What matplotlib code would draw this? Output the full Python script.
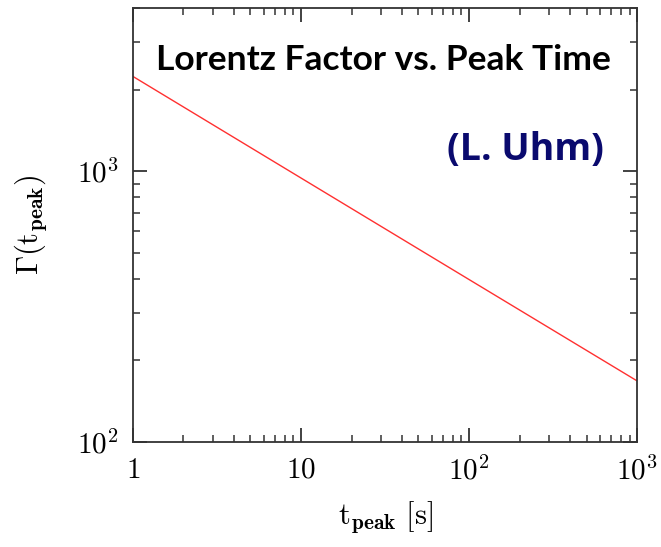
import matplotlib
matplotlib.use('Agg')
import matplotlib.pyplot as plt
from matplotlib.ticker import LogLocator, NullFormatter

# data (power law, straight on log-log)
t_peak = [1, 10, 100, 1000]
gamma = [2240, 944, 398, 168]

xticks = [1, 10, 100, 1000]
xticklabels = ['$1$', '$10$', '$10^2$', '$10^3$']
yticks = [100, 1000]
yticklabels = ['$10^2$', '$10^3$']

plt.rcParams['mathtext.fontset'] = 'cm'

fig = plt.figure(figsize=(6.61, 5.47), dpi=100)
ax = fig.add_axes([0.201, 0.192, 0.763, 0.793])

ax.plot(t_peak, gamma, color='#ff3030', lw=1.0)

ax.set_xscale('log')
ax.set_yscale('log')
ax.set_xlim(1, 1000)
ax.set_ylim(100, 4000)

ax.set_xticks(xticks, xticklabels)
ax.set_yticks(yticks, yticklabels)
ax.xaxis.set_minor_locator(LogLocator(base=10, subs=range(2, 10)))
ax.yaxis.set_minor_locator(LogLocator(base=10, subs=range(2, 10)))
ax.xaxis.set_minor_formatter(NullFormatter())
ax.yaxis.set_minor_formatter(NullFormatter())

ax.tick_params(which='both', direction='in', top=True, right=True,
               color='#333333', labelsize=21, pad=10)
ax.tick_params(which='major', length=10, width=1.3)
ax.tick_params(which='minor', length=5, width=1.1)
for s in ax.spines.values():
    s.set_linewidth(1.3)
    s.set_color('#333333')

ax.set_xlabel(r'$\mathrm{t}_{\mathbf{peak}}\ [\mathrm{s}]$', fontsize=22, labelpad=10)
ax.set_ylabel(r'$\Gamma(\mathrm{t}_{\mathbf{peak}})$', fontsize=22, labelpad=20)

ax.text(0.496, 0.88, 'Lorentz Factor vs. Peak Time', transform=ax.transAxes,
        ha='center', va='center', fontsize=25.5, fontweight='bold',
        family='Lato', color='black')
ax.text(0.933, 0.673, '(L. Uhm)', transform=ax.transAxes,
        ha='right', va='center', fontsize=27, fontweight='bold',
        family='Open Sans', color='#0a0a6e')

fig.savefig('out.png', dpi=100)
